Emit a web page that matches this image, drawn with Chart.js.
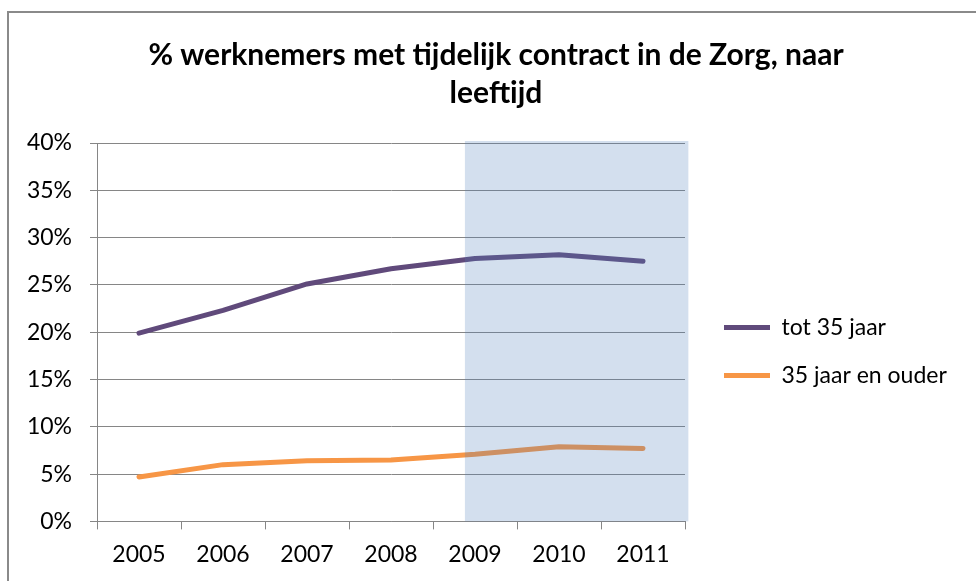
<!DOCTYPE html>
<html>
<head>
<meta charset="utf-8">
<script src="https://cdn.jsdelivr.net/npm/chart.js@4.4.0/dist/chart.umd.min.js"></script>
<style>
  html, body { margin: 0; padding: 0; background: #fff; overflow: hidden; }
  #frame { position: absolute; left: 7px; top: 11px; width: 1200px; height: 800px; border: 2px solid #8a8a8a; }
  #wrap { position: absolute; left: 0; top: 0; width: 976px; height: 581px; }
</style>
</head>
<body>
<div id="frame"></div>
<div id="wrap"><canvas id="myChart"></canvas></div>
<script>
const years = ['2005', '2006', '2007', '2008', '2009', '2010', '2011'];
const tot35 = [19.9, 22.3, 25.1, 26.7, 27.8, 28.2, 27.5];
const vanaf35 = [4.7, 6.0, 6.4, 6.5, 7.1, 7.9, 7.7];
const yTicks = [0, 5, 10, 15, 20, 25, 30, 35, 40];

const ctx = document.getElementById('myChart');
const grey = '#868686';
const font = 'Lato';

// blue overlay over 2009-2011, drawn on top of the lines like in Excel
const shadePlugin = {
  id: 'shade',
  afterDatasetsDraw(chart, args, opts) {
    const x = chart.scales.x;
    const area = chart.chartArea;
    const x0 = x.getPixelForValue(opts.from);
    const x1 = x.getPixelForValue(opts.to);
    const c = chart.ctx;
    c.save();
    c.fillStyle = opts.color;
    c.fillRect(x0, area.top - 2, x1 - x0, area.bottom - area.top + 2);
    c.restore();
  }
};

// chart.js caps a side legend at a quarter of the width, so widen it after layout
const legendNudge = {
  id: 'legendNudge',
  afterLayout(chart, args, opts) {
    const lg = chart.legend;
    lg.left = chart.chartArea.right + opts.gap;
    lg.right = chart.width;
    lg.width = lg.right - lg.left;
  }
};

new Chart(ctx, {
  type: 'line',
  data: {
    labels: years,
    datasets: [{
      label: 'tot 35 jaar',
      data: tot35,
      borderColor: '#604A7B',
      backgroundColor: '#604A7B',
      borderWidth: 5,
      borderCapStyle: 'round',
      borderJoinStyle: 'round',
      pointRadius: 0,
      tension: 0
    },
    {
      label: '35 jaar en ouder',
      data: vanaf35,
      borderColor: '#F79646',
      backgroundColor: '#F79646',
      borderWidth: 5,
      borderCapStyle: 'round',
      borderJoinStyle: 'round',
      pointRadius: 0,
      tension: 0
    }]
  },
  plugins: [shadePlugin, legendNudge],
  options: {
    responsive: true,
    maintainAspectRatio: false,
    animation: false,
    layout: {
      padding: { left: 16, right: 0, top: 0, bottom: 2 }
    },
    plugins: {
      shade: { from: 3.88, to: 6.54, color: 'rgba(79,129,189,0.25)' },
      legendNudge: { gap: 14 },
      title: {
        display: true,
        text: ['% werknemers met tijdelijk contract in de Zorg, naar', 'leeftijd'],
        color: '#000',
        font: { family: font, size: 30, weight: 'bold', lineHeight: 1.267 },
        padding: { top: 36, bottom: 31 }
      },
      legend: {
        position: 'right',
        align: 'center',
        fullSize: false,
        title: { display: true, text: ' ', font: { size: 12 }, padding: 12 },
        labels: {
          usePointStyle: true,
          pointStyle: 'line',
          pointStyleWidth: 46,
          padding: 25,
          color: '#000',
          font: { family: font, size: 23 }
        }
      },
      tooltip: { enabled: false }
    },
    scales: {
      x: {
        offset: true,
        grid: {
          offset: true,
          drawOnChartArea: false,
          drawTicks: true,
          tickLength: 8,
          color: grey
        },
        border: { display: true, color: grey },
        ticks: {
          color: '#000',
          padding: 11,
          maxRotation: 0,
          autoSkip: false,
          font: { family: font, size: 23 }
        }
      },
      y: {
        min: 0,
        max: 40,
        afterBuildTicks: function(scale) {
          scale.ticks = yTicks.map(v => ({ value: v }));
        },
        afterFit: function(scale) {
          scale.width = 81;
        },
        grid: { color: grey, tickLength: 7 },
        border: { display: true, color: grey },
        ticks: {
          color: '#000',
          padding: 18,
          font: { family: font, size: 23 },
          callback: function(v) { return v + '%'; }
        }
      },
      // empty axis, only keeps room between plot and legend
      gap: {
        axis: 'y',
        position: 'right',
        display: true,
        grid: { drawOnChartArea: false, drawTicks: false },
        border: { display: false },
        ticks: { display: false },
        afterFit: function(scale) {
          scale.width = 131;
        }
      }
    }
  }
});
</script>
</body>
</html>
